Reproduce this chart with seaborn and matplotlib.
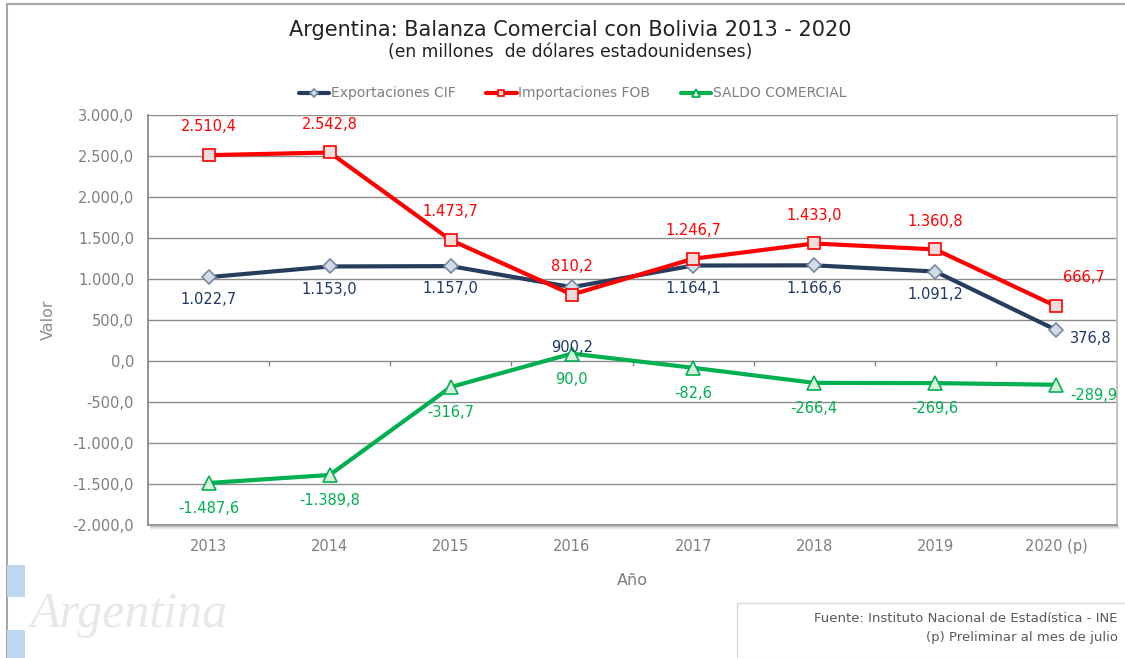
import matplotlib
matplotlib.use("Agg")
import matplotlib.pyplot as plt
import seaborn as sns
import pandas as pd
import numpy as np
from matplotlib.patches import Rectangle
from matplotlib.ticker import FuncFormatter, MultipleLocator

years = ["2013", "2014", "2015", "2016", "2017", "2018", "2019", "2020 (p)"]
exportaciones = [1022.7, 1153.0, 1157.0, 900.2, 1164.1, 1166.6, 1091.2, 376.8]
importaciones = [2510.4, 2542.8, 1473.7, 810.2, 1246.7, 1433.0, 1360.8, 666.7]
saldo = [-1487.6, -1389.8, -316.7, 90.0, -82.6, -266.4, -269.6, -289.9]

def fmt(v):
    s = f"{v:,.1f}"
    return s.replace(",", "X").replace(".", ",").replace("X", ".")

sns.set_theme(style="white")
plt.rcParams['font.family'] = ['DejaVu Sans']

W, H = 1125, 658
fig = plt.figure(figsize=(11.25, 6.58), dpi=100)
ax = fig.add_axes([148/W, 1 - 525/H, 969/W, 410/H])

x = np.arange(len(years))
df = pd.DataFrame({"x": x, "exp": exportaciones, "imp": importaciones, "sal": saldo})

series = [
    ("exp", "Exportaciones CIF", "#263D5E", "D", "#D3DBE6", 7, "#7A89A3"),
    ("imp", "Importaciones FOB", "#FF0000", "s", "#F2DCDB", 8.5, "#FF0000"),
    ("sal", "SALDO COMERCIAL", "#00B050", "^", "#D8F0DC", 9.5, "#00B050"),
]
for col, name, c, m, fc, ms, ec in series:
    sns.lineplot(data=df, x="x", y=col, ax=ax, color=c, linewidth=3,
                 marker=m, markersize=ms, markerfacecolor=fc,
                 markeredgecolor=ec, markeredgewidth=1.2, label=name, zorder=3)

fs = 10.5
for i, v in enumerate(importaciones):
    if i == len(importaciones) - 1:
        ax.annotate(fmt(v), (x[i], v), xytext=(5, 15), textcoords="offset points",
                    ha="left", va="bottom", color="#FF0000", fontsize=fs)
    else:
        ax.annotate(fmt(v), (x[i], v), xytext=(0, 15), textcoords="offset points",
                    ha="center", va="bottom", color="#FF0000", fontsize=fs)
for i, v in enumerate(exportaciones):
    if i == len(exportaciones) - 1:
        ax.annotate(fmt(v), (x[i], v), xytext=(10, -6), textcoords="offset points",
                    ha="left", va="center", color="#1F3864", fontsize=fs)
    elif years[i] == "2016":
        ax.annotate(fmt(v), (x[i], v), xytext=(0, -38), textcoords="offset points",
                    ha="center", va="top", color="#1F3864", fontsize=fs)
    else:
        ax.annotate(fmt(v), (x[i], v), xytext=(0, -11), textcoords="offset points",
                    ha="center", va="top", color="#1F3864", fontsize=fs)
for i, v in enumerate(saldo):
    if i == len(saldo) - 1:
        ax.annotate(fmt(v), (x[i], v), xytext=(10, -8), textcoords="offset points",
                    ha="left", va="center", color="#00B050", fontsize=fs)
    else:
        ax.annotate(fmt(v), (x[i], v), xytext=(0, -13), textcoords="offset points",
                    ha="center", va="top", color="#00B050", fontsize=fs)

ax.set_xlim(-0.5, len(years) - 0.5)
ax.set_ylim(-2000, 3000)
ax.yaxis.set_major_locator(MultipleLocator(500))
ax.yaxis.set_major_formatter(FuncFormatter(lambda v, p: fmt(v)))
ax.set_xticks(x)
ax.set_xticklabels(years)
ax.tick_params(axis="both", colors="#7F7F7F", labelsize=10.5, length=0, pad=10)
ax.tick_params(axis="y", length=5, color="#888888", direction="out", pad=5)
ax.grid(axis="y", color="#8C8C8C", linewidth=1)
ax.set_axisbelow(True)
ax.spines["top"].set_visible(False)
ax.spines["bottom"].set_color("#888888")
ax.spines["bottom"].set_linewidth(1.2)
ax.spines["left"].set_color("#888888")
ax.spines["right"].set_color("#BBBBBB")
ax.set_ylabel("Valor", color="#8C8C8C", fontsize=11.5, labelpad=12)
ax.set_xlabel("Año", color="#7F7F7F", fontsize=11.5, labelpad=14)

# category separators on the zero line
ax.vlines(x[:-1] + 0.5, -60, 0, color="#888888", linewidth=1, zorder=1)

# soft shadow under the plot area
for k, a in enumerate([0.35, 0.22, 0.12, 0.05]):
    fig.patches.append(Rectangle((150/W, 1 - (527 + k)/H), 969/W, 1/H, transform=fig.transFigure,
                                 facecolor="#555555", edgecolor="none", alpha=a))

leg = ax.legend(loc="lower center", bbox_to_anchor=(0.438, 1.005), ncol=3, frameon=False,
                fontsize=10, handlelength=2.2, columnspacing=2.2, handletextpad=0.1,
                markerscale=0.55)
for t in leg.get_texts():
    t.set_color("#7F7F7F")

fig.text(570/W, 1 - 30/H, "Argentina: Balanza Comercial con Bolivia 2013 - 2020",
         ha="center", va="center", fontsize=15, color="#222222")
fig.text(570/W, 1 - 52/H, "(en millones  de dólares estadounidenses)",
         ha="center", va="center", fontsize=12.3, color="#222222")

# outer frame
fig.patches.append(Rectangle((7/W, -0.1), 1.2, 1.1 - 4/H, transform=fig.transFigure,
                             fill=False, edgecolor="#A6A6A6", linewidth=1.5))
# decorative watermark
fig.patches.append(Rectangle((7/W, 1 - 597/H), 18/W, 32/H, transform=fig.transFigure,
                             facecolor="#BDD7EE", edgecolor="none"))
fig.patches.append(Rectangle((7/W, 0), 18/W, 28/H, transform=fig.transFigure,
                             facecolor="#BDD7EE", edgecolor="none"))
fig.text(30/W, 1 - 615/H, "Argentina", fontsize=36, style="italic",
         color="#E8E8E8", va="center", ha="left", family="Liberation Serif")

# source box
fig.patches.append(Rectangle((737/W, 0), 0.5, 55/H, transform=fig.transFigure,
                             facecolor="white", edgecolor="#D9D9D9", linewidth=1))
fig.text(1118/W, 1 - 618/H, "Fuente: Instituto Nacional de Estadística - INE",
         ha="right", va="center", fontsize=9.5, color="#595959")
fig.text(1118/W, 1 - 637/H, "(p) Preliminar al mes de julio",
         ha="right", va="center", fontsize=9.5, color="#595959")

fig.savefig("out.png", dpi=100)
